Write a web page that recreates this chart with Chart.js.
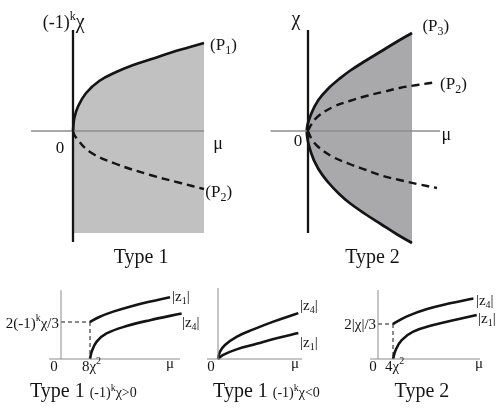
<!DOCTYPE html>
<html>
<head>
<meta charset="utf-8">
<script src="https://cdn.jsdelivr.net/npm/chart.js@4.4.0/dist/chart.umd.min.js"></script>
<style>
html, body { margin: 0; padding: 0; background: #fff; }
#wrap { position: relative; width: 497px; height: 410px; overflow: hidden; background: #fff; }
#wrap canvas { position: absolute; }
</style>
</head>
<body>
<div id="wrap">
  <canvas id="typeOneTop"></canvas>
  <canvas id="typeTwoTop"></canvas>
  <canvas id="typeOnePos"></canvas>
  <canvas id="typeOneNeg"></canvas>
  <canvas id="typeTwoBottom"></canvas>
</div>
<script>
// Type 1 (top left): mu against (-1)^k chi
const type1Mu = [0, 0.01, 0.04, 0.1, 0.2, 0.33, 0.46, 0.6, 0.75, 0.88, 1.0];
const type1P1 = [0, 0.13, 0.25, 0.38, 0.50, 0.59, 0.66, 0.72, 0.785, 0.835, 0.88];
const type1P2Mu = [0, 0.02, 0.13, 0.33, 0.59, 0.82, 1.0];
const type1P2 = [0, -0.06, -0.21, -0.33, -0.44, -0.52, -0.58];
const type1Floor = -1.02;

// Type 2 (top right): mu against chi, the (P3) parabola has its nose just left of the axis
const type2Mu = [0.03, 0.1, 0.2, 0.3, 0.4, 0.55, 0.7, 0.85, 1.0];
const type2P3Upper = [0.17, 0.31, 0.43, 0.52, 0.60, 0.70, 0.795, 0.89, 0.98];
const type2P3Lower = [-0.22, -0.38, -0.52, -0.63, -0.72, -0.83, -0.93, -1.03, -1.12];
const type2Nose = -0.012;
const type2P2Mu = [0, 0.035, 0.1, 0.24, 0.4, 0.56, 0.72, 0.88, 1.05, 1.24];
const type2P2Upper = [0, 0.07, 0.15, 0.24, 0.30, 0.35, 0.39, 0.43, 0.46, 0.49];
const type2P2Lower = [0, -0.08, -0.16, -0.26, -0.33, -0.39, -0.45, -0.49, -0.53, -0.57];

// Type 1, (-1)^k chi > 0: mu in units of 8chi^2, |z| in units of 2(-1)^k chi/3
const posZ1Mu = [1, 1.3, 1.8, 2.4, 3.0, 3.76];
const posZ1 = [1.0, 1.13, 1.28, 1.42, 1.54, 1.67];
const posZ4Mu = [1, 1.06, 1.23, 1.57, 2.26, 3.07, 4.16];
const posZ4 = [0, 0.20, 0.47, 0.69, 0.89, 1.05, 1.23];

// Type 1, (-1)^k chi < 0
const negZ4Mu = [0, 0.07, 0.24, 0.64, 1.22, 1.91, 2.77];
const negZ4 = [0, 0.20, 0.38, 0.60, 0.80, 1.01, 1.24];
const negZ1Mu = [0, 0.18, 0.64, 1.33, 2.02, 2.77];
const negZ1 = [0, 0.11, 0.26, 0.41, 0.56, 0.70];

// Type 2 bottom: mu in units of 4chi^2, |z| in units of 2|chi|/3
const t2Z4Mu = [1, 1.89, 3.22, 4.8, 6.36];
const t2Z4 = [1.0, 1.21, 1.42, 1.59, 1.73];
const t2Z1Mu = [1, 1.18, 1.58, 2.35, 3.69, 5.25, 6.58];
const t2Z1 = [0, 0.26, 0.54, 0.78, 0.97, 1.13, 1.26];

const FONT = '"Liberation Serif", "DejaVu Serif", serif';
const INK = '#141414';
const AXIS_GREY = '#8c8c8c';

const sup = (t, s) => [t, Math.round(s * 0.68), s * 0.45];
const sub = (t, s) => [t, Math.round(s * 0.68), -s * 0.22];

function line(xs, ys, extra) {
    return Object.assign({
        data: xs.map((x, i) => ({ x: x, y: ys[i] })),
        pointRadius: 0,
        borderColor: INK,
        borderWidth: 2.7,
        fill: false,
        tension: 0
    }, extra || {});
}

function curve(xs, ys, extra) {
    return line(xs, ys, Object.assign({ tension: 0.4 }, extra || {}));
}

function textPlugin(items) {
    return {
        id: 'panelText',
        afterDatasetsDraw(chart) {
            const ctx = chart.ctx;
            const xs = chart.scales.x, ys = chart.scales.y;
            ctx.save();
            ctx.fillStyle = INK;
            ctx.textBaseline = 'alphabetic';
            items.forEach(item => {
                let w = 0;
                const parts = item.parts.map(p => {
                    ctx.font = p[1] + 'px ' + FONT;
                    const pw = ctx.measureText(p[0]).width;
                    w += pw;
                    return { text: p[0], size: p[1], rise: p[2] || 0, w: pw };
                });
                let x = xs.getPixelForValue(item.x);
                const y = ys.getPixelForValue(item.y);
                if (item.align === 'center') x -= w / 2;
                else if (item.align === 'right') x -= w;
                parts.forEach(p => {
                    ctx.font = p.size + 'px ' + FONT;
                    ctx.fillText(p.text, x, y - p.rise);
                    x += p.w;
                });
            });
            ctx.restore();
        }
    };
}

// box = [left, top, width, height] in page pixels, origin = page pixel of (0,0), unit = pixels per data unit
function panel(id, box, origin, unit, datasets, labels) {
    const cv = document.getElementById(id);
    cv.width = box[2];
    cv.height = box[3];
    cv.style.left = box[0] + 'px';
    cv.style.top = box[1] + 'px';
    new Chart(cv, {
        type: 'line',
        data: { datasets: datasets },
        options: {
            responsive: false,
            animation: false,
            events: [],
            layout: { padding: 0 },
            plugins: {
                legend: { display: false },
                tooltip: { enabled: false },
                filler: { drawTime: 'beforeDatasetsDraw' }
            },
            scales: {
                x: {
                    type: 'linear', display: false,
                    min: (box[0] - origin[0]) / unit[0],
                    max: (box[0] + box[2] - origin[0]) / unit[0]
                },
                y: {
                    type: 'linear', display: false,
                    min: (origin[1] - box[1] - box[3]) / unit[1],
                    max: (origin[1] - box[1]) / unit[1]
                }
            }
        },
        plugins: [textPlugin(labels)]
    });
}

// (P3) traced from the lower tip round the nose to the upper tip
const p3Mu = type2Mu.slice().reverse().concat([type2Nose], type2Mu);
const p3Chi = type2P3Lower.slice().reverse().concat([0], type2P3Upper);

// Type 1 top
panel('typeOneTop', [0, 0, 250, 272], [73, 131], [131, 100], [
    line([0, 0], [-1.11, 1.01], { borderWidth: 2.3 }),
    line([-0.32, 1.0], [0, 0], { borderColor: AXIS_GREY, borderWidth: 1.3 }),
    curve(type1Mu, type1P1, { fill: { value: type1Floor }, backgroundColor: '#c1c1c1' }),
    curve(type1P2Mu, type1P2, { borderDash: [8, 5], borderWidth: 2.4 })
], [
    { x: -0.23, y: 1.03, align: 'left', parts: [['(-1)', 18], sup('k', 18), ['χ', 20]] },
    { x: 1.046, y: 0.81, align: 'left', parts: [['(P', 17], sub('1', 17), [')', 17]] },
    { x: 1.01, y: -0.66, align: 'left', parts: [['(P', 17], sub('2', 17), [')', 17]] },
    { x: -0.10, y: -0.22, align: 'center', parts: [['0', 17]] },
    { x: 1.107, y: -0.18, align: 'center', parts: [['μ', 18]] },
    { x: 0.52, y: -1.32, align: 'center', parts: [['Type 1', 20]] }
]);

// Type 2 top
panel('typeTwoTop', [250, 0, 247, 272], [308, 131], [104, 100], [
    line([0, 0], [-1.02, 1.01], { borderWidth: 2.3 }),
    line([-0.36, 1.27], [0, 0], { borderColor: AXIS_GREY, borderWidth: 1.3 }),
    curve(p3Mu, p3Chi, { fill: 'shape', backgroundColor: '#a9a9ac' }),
    curve(type2P2Mu, type2P2Upper, { borderDash: [8, 5], borderWidth: 2.4 }),
    curve(type2P2Mu, type2P2Lower, { borderDash: [8, 5], borderWidth: 2.4 })
], [
    { x: -0.115, y: 1.06, align: 'center', parts: [['χ', 20]] },
    { x: 1.10, y: 1.0, align: 'left', parts: [['(P', 17], sub('3', 17), [')', 17]] },
    { x: 1.27, y: 0.42, align: 'left', parts: [['(P', 17], sub('2', 17), [')', 17]] },
    { x: -0.096, y: -0.15, align: 'center', parts: [['0', 17]] },
    { x: 1.33, y: -0.09, align: 'center', parts: [['μ', 18]] },
    { x: 0.62, y: -1.32, align: 'center', parts: [['Type 2', 20]] }
]);

// Type 1, (-1)^k chi > 0
panel('typeOnePos', [0, 275, 200, 135], [61, 359], [29, 37], [
    line([0, 0], [0, 1.86], { borderColor: AXIS_GREY, borderWidth: 1 }),
    line([-0.41, 4.1], [0, 0], { borderColor: AXIS_GREY, borderWidth: 1.2 }),
    line([0, 1], [1, 1], { borderWidth: 1, borderDash: [4, 3] }),
    line([1, 1], [1, 0], { borderWidth: 1, borderDash: [4, 3] }),
    curve(posZ1Mu, posZ1, { borderWidth: 2.6 }),
    curve(posZ4Mu, posZ4, { borderWidth: 2.6 })
], [
    { x: -0.07, y: 0.84, align: 'right', parts: [['2(-1)', 15], sup('k', 15), ['χ/3', 15]] },
    { x: 3.83, y: 1.57, align: 'left', parts: [['|z', 15], sub('1', 15), ['|', 15]] },
    { x: 4.17, y: 0.86, align: 'left', parts: [['|z', 15], sub('4', 15), ['|', 15]] },
    { x: -0.24, y: -0.32, align: 'center', parts: [['0', 15]] },
    { x: 0.72, y: -0.32, align: 'left', parts: [['8χ', 15], sup('2', 15)] },
    { x: 3.76, y: -0.24, align: 'center', parts: [['μ', 15]] },
    { x: -1.07, y: -1.03, align: 'left', parts: [['Type 1 ', 20], ['(-1)', 14], sup('k', 14), ['χ>0', 14]] }
]);

// Type 1, (-1)^k chi < 0
panel('typeOneNeg', [200, 275, 130, 135], [218, 359], [29, 37], [
    line([0, 0], [0, 1.92], { borderColor: AXIS_GREY, borderWidth: 1 }),
    line([-0.38, 2.9], [0, 0], { borderColor: AXIS_GREY, borderWidth: 1.2 }),
    curve(negZ4Mu, negZ4, { borderWidth: 2.6 }),
    curve(negZ1Mu, negZ1, { borderWidth: 2.6 })
], [
    { x: 2.83, y: 1.32, align: 'left', parts: [['|z', 15], sub('4', 15), ['|', 15]] },
    { x: 2.83, y: 0.32, align: 'left', parts: [['|z', 15], sub('1', 15), ['|', 15]] },
    { x: -0.24, y: -0.32, align: 'center', parts: [['0', 15]] },
    { x: 2.66, y: -0.24, align: 'center', parts: [['μ', 15]] },
    { x: -0.17, y: -1.03, align: 'left', parts: [['Type 1 ', 20], ['(-1)', 14], sup('k', 14), ['χ<0', 14]] }
]);

// Type 2 bottom
panel('typeTwoBottom', [330, 275, 167, 135], [378, 359], [15, 35], [
    line([0, 0], [0, 1.97], { borderColor: AXIS_GREY, borderWidth: 1 }),
    line([-0.53, 6.8], [0, 0], { borderColor: AXIS_GREY, borderWidth: 1.2 }),
    line([0, 1], [1, 1], { borderWidth: 1, borderDash: [4, 3] }),
    line([1, 1], [1, 0], { borderWidth: 1, borderDash: [4, 3] }),
    curve(t2Z4Mu, t2Z4, { borderWidth: 2.6 }),
    curve(t2Z1Mu, t2Z1, { borderWidth: 2.6 })
], [
    { x: -0.13, y: 0.86, align: 'right', parts: [['2|χ|/3', 15]] },
    { x: 6.53, y: 1.54, align: 'left', parts: [['|z', 15], sub('4', 15), ['|', 15]] },
    { x: 6.67, y: 1.03, align: 'left', parts: [['|z', 15], sub('1', 15), ['|', 15]] },
    { x: -0.33, y: -0.34, align: 'center', parts: [['0', 15]] },
    { x: 0.47, y: -0.34, align: 'left', parts: [['4χ', 15], sup('2', 15)] },
    { x: 6.73, y: -0.26, align: 'center', parts: [['μ', 15]] },
    { x: 2.93, y: -1.09, align: 'center', parts: [['Type 2', 20]] }
]);
</script>
</body>
</html>
